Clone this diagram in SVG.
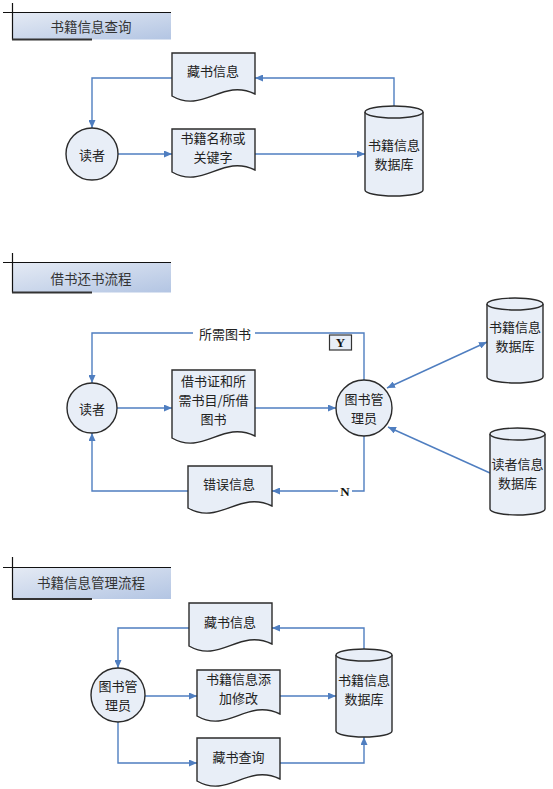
<svg xmlns="http://www.w3.org/2000/svg" width="553" height="789" viewBox="0 0 553 789">
<defs>
<linearGradient id="tg" x1="0" y1="0" x2="1" y2="1">
<stop offset="0" stop-color="#E4EAF4"/>
<stop offset="1" stop-color="#B3C5E3"/>
</linearGradient>
<marker id="ah" viewBox="0 0 8 7" markerWidth="8" markerHeight="7" refX="8" refY="3.5" orient="auto-start-reverse" markerUnits="userSpaceOnUse">
<path d="M0,0 L8,3.5 L0,7 z" fill="#4F7EC0"/>
</marker>
<style>
.t{font-family:"Noto Sans CJK SC","Liberation Sans",sans-serif;font-size:13px;fill:#222;text-anchor:middle;dominant-baseline:central}
.tt{font-family:"Noto Sans CJK SC","Liberation Sans",sans-serif;font-size:13.5px;fill:#333;text-anchor:middle;dominant-baseline:central}
.lbl{font-family:"Liberation Serif",serif;font-size:13px;font-weight:bold;fill:#111;text-anchor:middle;dominant-baseline:central}
.n{fill:#E8EEF7;stroke:#2b2b2b;stroke-width:1.4}
.c{fill:none;stroke:#4F7EC0;stroke-width:1.4}
.a{marker-end:url(#ah)}
.hl{stroke:#111;stroke-width:1.2;fill:none}
.bl{stroke:#333;stroke-width:2;fill:none}
</style>
</defs>

<g id="title1">
<rect x="13" y="13" width="158" height="26.5" fill="url(#tg)"/>
<path class="hl" d="M3 12.5 H171 M12.5 3 V39.5"/>
<path class="bl" d="M12 39.5 H92"/>
<text class="tt" x="91" y="26">书籍信息查询</text>
</g>
<g id="title2">
<rect x="13" y="263" width="158" height="29.5" fill="url(#tg)"/>
<path class="hl" d="M3 262.5 H171 M12.5 253 V292.5"/>
<path class="bl" d="M12 292.5 H92"/>
<text class="tt" x="91" y="277.5">借书还书流程</text>
</g>
<g id="title3">
<rect x="13" y="568" width="158" height="31" fill="url(#tg)"/>
<path class="hl" d="M3 567.5 H171 M12.5 557 V599"/>
<path class="bl" d="M12 599 H92"/>
<text class="tt" x="91" y="582">书籍信息管理流程</text>
</g>

<g id="connectors">
<path class="c a" d="M172 78 H92 V128"/>
<path class="c a" d="M118 154 H172"/>
<path class="c a" d="M255 154 H365"/>
<path class="c a" d="M394 106 V78 H255"/>

<path class="c a" d="M364 380 V333 H92 V383"/>
<path class="c a" d="M117 408 H172"/>
<path class="c a" d="M255 408 H336"/>
<path class="c a" d="M364 436 V491 H272"/>
<path class="c a" d="M188 491 H92 V433"/>
<path class="c a" d="M387 388 L487 342" marker-start="url(#ah)"/>
<path class="c a" d="M490 473 L388 427"/>

<path class="c a" d="M189 628 H118 V668"/>
<path class="c a" d="M145 696 H197"/>
<path class="c a" d="M280 696 H336"/>
<path class="c a" d="M364 649 V628 H272"/>
<path class="c a" d="M118 722 V763 H197"/>
<path class="c a" d="M280 763 H364 V737"/>

<rect x="193" y="325" width="62" height="16" fill="#fff"/>
<text class="t" x="225" y="333">所需图书</text>
<rect x="329.5" y="335" width="22" height="15" fill="#E8EEF7" stroke="#333" stroke-width="1.2"/>
<text class="lbl" x="340.5" y="342.5">Y</text>
<rect x="338" y="484" width="14" height="14" fill="#fff"/>
<text class="lbl" x="345" y="491">N</text>
</g>

<g id="s1_collection_info">
<path class="n" d="M172 53 H255 V94 C222 78 203 114 172 96 Z"/>
<text class="t" x="213" y="70">藏书信息</text>
</g>
<g id="s1_reader">
<circle class="n" cx="92" cy="154" r="26"/>
<text class="t" x="92" y="154">读者</text>
</g>
<g id="s1_keyword">
<path class="n" d="M172 129 H255 V170 C222 154 203 190 172 172 Z"/>
<text class="t" x="213" y="137">书籍名称或</text>
<text class="t" x="213" y="156">关键字</text>
</g>
<g id="s1_db">
<path class="n" d="M365 112 A29 6 0 0 1 423 112 V190 A29 6 0 0 1 365 190 Z"/>
<path class="n" fill="none" d="M365 112 A29 6 0 0 0 423 112"/>
<text class="t" x="394" y="144">书籍信息</text>
<text class="t" x="394" y="163">数据库</text>
</g>

<g id="s2_reader">
<circle class="n" cx="92" cy="408" r="25"/>
<text class="t" x="92" y="408">读者</text>
</g>
<g id="s2_card">
<path class="n" d="M172 370 H255 V436 C222 420 203 456 172 438 Z"/>
<text class="t" x="213.5" y="380.5">借书证和所</text>
<text class="t" x="213.5" y="399.5">需书目/所借</text>
<text class="t" x="213.5" y="418.5">图书</text>
</g>
<g id="s2_librarian">
<circle class="n" cx="364" cy="408" r="28"/>
<text class="t" x="364" y="398">图书管</text>
<text class="t" x="364" y="417">理员</text>
</g>
<g id="s2_error">
<path class="n" d="M188 466 H272 V506 C239 490 219 526 188 508 Z"/>
<text class="t" x="229" y="483.5">错误信息</text>
</g>
<g id="s2_bookdb">
<path class="n" d="M487 304 A28 6 0 0 1 543 304 V377 A28 6 0 0 1 487 377 Z"/>
<path class="n" fill="none" d="M487 304 A28 6 0 0 0 543 304"/>
<text class="t" x="515" y="326.5">书籍信息</text>
<text class="t" x="515" y="345.5">数据库</text>
</g>
<g id="s2_readerdb">
<path class="n" d="M490 434 A27.5 6 0 0 1 545 434 V509 A27.5 6 0 0 1 490 509 Z"/>
<path class="n" fill="none" d="M490 434 A27.5 6 0 0 0 545 434"/>
<text class="t" x="517.5" y="463">读者信息</text>
<text class="t" x="517.5" y="482">数据库</text>
</g>

<g id="s3_collection_info">
<path class="n" d="M189 603 H272 V644 C239 628 220 664 189 646 Z"/>
<text class="t" x="230" y="621.5">藏书信息</text>
</g>
<g id="s3_librarian">
<circle class="n" cx="118" cy="695" r="27"/>
<text class="t" x="118" y="685.5">图书管</text>
<text class="t" x="118" y="704.5">理员</text>
</g>
<g id="s3_edit">
<path class="n" d="M197 670 H280 V714 C247 698 228 734 197 716 Z"/>
<text class="t" x="238.5" y="678">书籍信息添</text>
<text class="t" x="238.5" y="697">加修改</text>
</g>
<g id="s3_query">
<path class="n" d="M197 738 H280 V779 C247 763 228 799 197 781 Z"/>
<text class="t" x="238.5" y="756">藏书查询</text>
</g>
<g id="s3_db">
<path class="n" d="M336 655 A28 6 0 0 1 392 655 V731 A28 6 0 0 1 336 731 Z"/>
<path class="n" fill="none" d="M336 655 A28 6 0 0 0 392 655"/>
<text class="t" x="364" y="679.5">书籍信息</text>
<text class="t" x="364" y="698.5">数据库</text>
</g>
</svg>
